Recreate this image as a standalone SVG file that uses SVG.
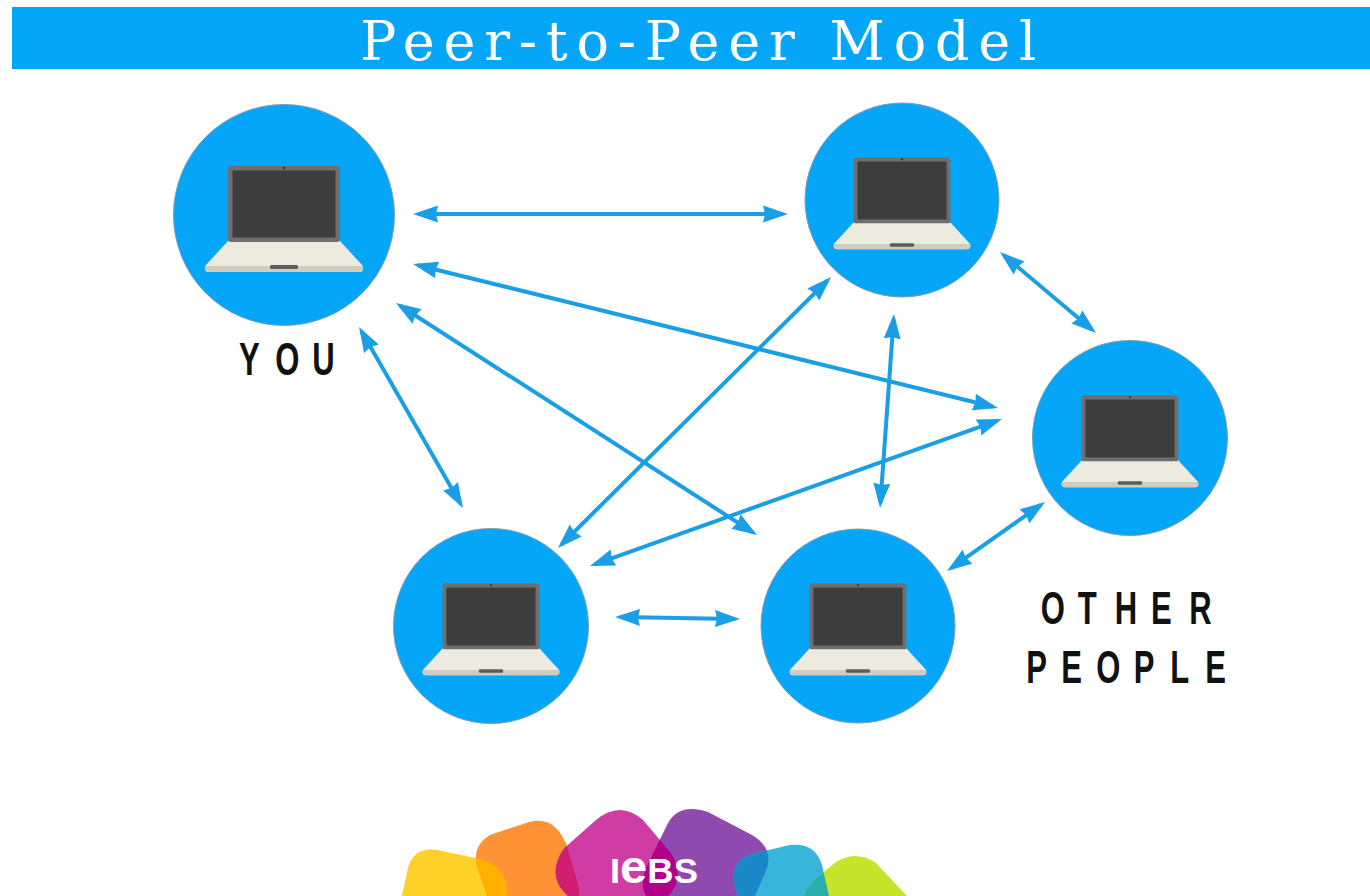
<svg xmlns="http://www.w3.org/2000/svg" width="1370" height="896" viewBox="0 0 1370 896">
<style>
.disc{fill:#05a6f8;stroke:#7f9fb0;stroke-width:1}
.title{font-family:"DejaVu Serif","Liberation Serif",serif;font-size:54px;fill:#fff;letter-spacing:8.8px}
.lbl{font-family:"Liberation Sans",sans-serif;font-weight:bold;font-size:47px;fill:#111}
.arrow{fill:none;stroke:#1a9fe6;stroke-width:4;marker-start:url(#head);marker-end:url(#head)}
</style>
<defs>
<marker id="head" viewBox="0 0 25 18" refX="20" refY="9" markerWidth="25" markerHeight="18" markerUnits="userSpaceOnUse" orient="auto-start-reverse">
<path d="M0 0.500L25 9L0 17.500L2 9Z" fill="#1a9fe6"/>
</marker>
<g id="laptop">
<path d="M-56 26L-78 50Q-81 57-75 57H75Q81 57 78 50L56 26Z" fill="#edebdf"/>
<path d="M-79 51H79Q80 57 75 57H-75Q-80 57-79 51Z" fill="#cfccc0"/>
<rect x="-14" y="50" width="28" height="4" rx="1.500" fill="#5c5c5c"/>
<rect x="-56" y="-49" width="112" height="76" rx="3" fill="#6f6f6f"/>
<rect x="-51.500" y="-44.500" width="103" height="67" fill="#3d3d3d"/>
<circle cx="0" cy="-47" r="1.300" fill="#333"/>
</g>
<path id="l-yellow" d="M402 896L408 868Q414 846 437 850L480 859Q507 866 507 892V896Z"/>
<path id="l-orange" d="M487 896L477 866Q472 846 490 835L529 822Q555 815 567 846L579 888V896Z"/>
<path id="l-magenta" d="M568 896Q550 880 558 860Q561 850 570 843L596 820Q620 800 643 820L670 852Q680 865 677 880Q675 890 668 896Z"/>
<path id="l-purple" d="M646 896Q640 885 646 868L667 825Q678 802 708 812L752 835Q777 850 764 875L755 896Z"/>
<path id="l-blue" d="M738 896Q728 870 741 860Q745 855 755 853L790 845Q815 842 822 865L829 896Z"/>
<path id="l-lime" d="M803 896Q808 885 820 875L836 862Q855 850 875 862L907 896Z"/>
<clipPath id="c-orange"><use href="#l-orange"/></clipPath>
<clipPath id="c-magenta"><use href="#l-magenta"/></clipPath>
<clipPath id="c-purple"><use href="#l-purple"/></clipPath>
<clipPath id="c-blue"><use href="#l-blue"/></clipPath>
<clipPath id="c-lime"><use href="#l-lime"/></clipPath>
</defs>
<rect width="1370" height="896" fill="#fff"/>
<g id="banner">
<rect x="12" y="7" width="1358" height="62" fill="#05a6f8"/>
<text class="title" x="360" y="60">Peer-to-Peer Model</text>
</g>
<g id="connectors">
<line class="arrow" x1="418" y1="214" x2="783" y2="214"/>
<line class="arrow" x1="417.900" y1="265.200" x2="993.100" y2="406.800"/>
<line class="arrow" x1="400.200" y1="305.700" x2="752.800" y2="532.300"/>
<line class="arrow" x1="361.500" y1="331.300" x2="460.500" y2="503.700"/>
<line class="arrow" x1="561.500" y1="544.500" x2="827.500" y2="280.500"/>
<line class="arrow" x1="594.700" y1="564.300" x2="997.300" y2="420.700"/>
<line class="arrow" x1="893.600" y1="319" x2="880.400" y2="503"/>
<line class="arrow" x1="1003.800" y1="255.200" x2="1092.200" y2="329.800"/>
<line class="arrow" x1="951.100" y1="568.100" x2="1040.900" y2="504.900"/>
<line class="arrow" x1="620" y1="617.100" x2="735" y2="618.900"/>
</g>
<g id="node-you">
<circle class="disc" cx="284" cy="215" r="110.500"/>
<use href="#laptop" transform="translate(284 215)"/>
<text class="lbl" transform="scale(.66 1)" x="362 417 473" y="375">YOU</text>
</g>
<g id="node-peer-1">
<circle class="disc" cx="902" cy="200" r="97"/>
<use href="#laptop" transform="translate(902 200) scale(.865)"/>
</g>
<g id="node-peer-2">
<circle class="disc" cx="1130" cy="438" r="97.500"/>
<use href="#laptop" transform="translate(1130 438) scale(.865)"/>
</g>
<g id="node-peer-3">
<circle class="disc" cx="491" cy="626" r="97.500"/>
<use href="#laptop" transform="translate(491 626) scale(.865)"/>
</g>
<g id="node-peer-4">
<circle class="disc" cx="858" cy="626" r="97"/>
<use href="#laptop" transform="translate(858 626) scale(.865)"/>
</g>
<g id="other-people">
<text class="lbl" transform="scale(.66 1)" x="1577 1633 1689 1744 1802" y="624">OTHER</text>
<text class="lbl" transform="scale(.66 1)" x="1555 1608 1661 1718 1773 1826" y="683">PEOPLE</text>
</g>
<g id="logo">
<use href="#l-yellow" fill="#ffcf2a"/>
<use href="#l-orange" fill="#ff9235"/>
<use href="#l-yellow" fill="#ffb000" clip-path="url(#c-orange)"/>
<use href="#l-magenta" fill="#cf3ca4"/>
<use href="#l-orange" fill="#d01f70" clip-path="url(#c-magenta)"/>
<use href="#l-purple" fill="#8f4ab0"/>
<use href="#l-magenta" fill="#b0008a" clip-path="url(#c-purple)"/>
<use href="#l-blue" fill="#38b5da"/>
<use href="#l-purple" fill="#1a88c8" clip-path="url(#c-blue)"/>
<use href="#l-lime" fill="#c6e52a"/>
<use href="#l-blue" fill="#2aaeaa" clip-path="url(#c-lime)"/>
<text y="883" font-family="'Liberation Sans',sans-serif" font-size="35" font-weight="bold" fill="#fff" x="610" textLength="88" lengthAdjust="spacingAndGlyphs">I<tspan font-size="47">e</tspan>BS</text>
</g>
</svg>
